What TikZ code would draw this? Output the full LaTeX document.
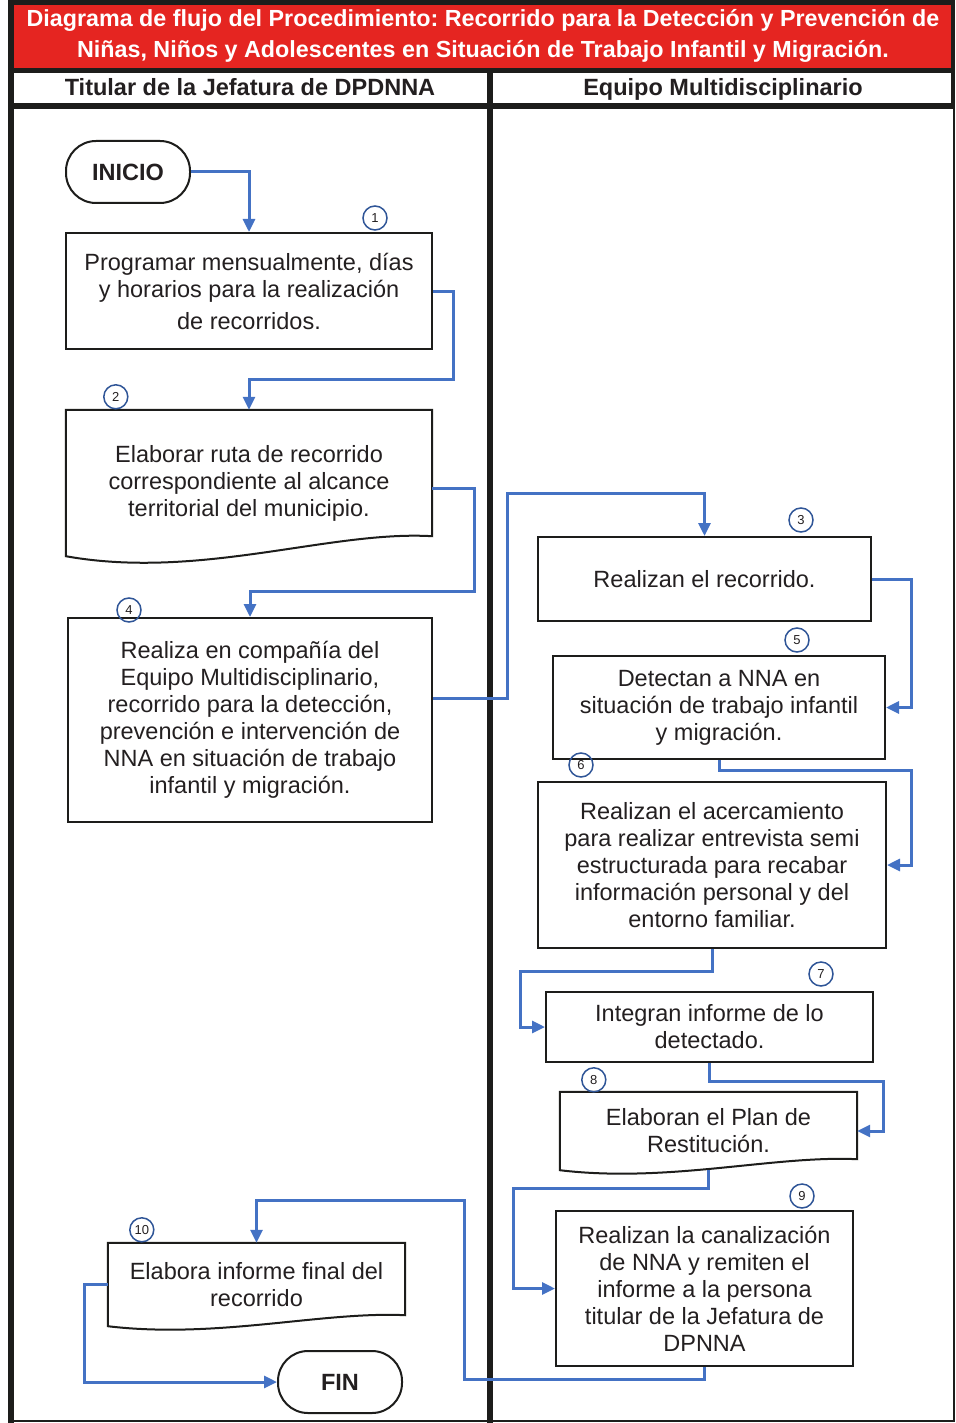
\documentclass[tikz,border=0pt]{standalone}
\usepackage{fontspec}
\setmainfont{Liberation Sans}
\usetikzlibrary{arrows.meta}
\definecolor{flowblue}{HTML}{4472C4}
\definecolor{numblue}{HTML}{2F5597}
\definecolor{titlered}{HTML}{E52521}
\definecolor{framegray}{HTML}{1D1D1B}
\definecolor{textgray}{HTML}{231F20}
\frenchspacing

\begin{document}
\begin{tikzpicture}[x=1pt,y=-1pt,
  every node/.style={font=\fontsize{23.5}{27}\selectfont,text=textgray},
  procbox/.style={draw=framegray,line width=2pt,align=center,inner sep=0pt},
  docbox/.style={align=center,inner sep=0pt},
  termbox/.style={draw=framegray,line width=2pt,rounded corners=30pt,
    minimum width=124pt,minimum height=62pt,font=\fontsize{23.5}{27}\selectfont\bfseries},
  numcirc/.style={circle,draw=numblue,line width=1.5pt,minimum size=24pt,inner sep=0pt,
    font=\fontsize{13}{13}\selectfont},
  lanehead/.style={anchor=base,font=\fontsize{23.5}{27}\selectfont\bfseries},
  flow/.style={draw=flowblue,line width=3pt,-{Triangle[length=13pt,width=12pt]}}]
\useasboundingbox (0,0) rectangle (955,1423);
% marco y carriles
\fill[framegray] (8,0) rectangle (955,109);
\fill[titlered] (14,5) rectangle (951,68);
\fill[white] (14,73) rectangle (487,103);
\fill[white] (493,73) rectangle (951,103);
\fill[framegray] (8,109) rectangle (14,1423);
\fill[framegray] (487,109) rectangle (493,1423);
\draw[framegray,line width=2pt] (14,1421) -- (954,1421) -- (954,109);
\node[align=center,text=white,font=\fontsize{23.3}{31}\selectfont\bfseries] (titulo) at (483,36)
  {Diagrama de flujo del Procedimiento: Recorrido para la Detección y Prevención de\\
   Niñas, Niños y Adolescentes en Situación de Trabajo Infantil y Migración.};
\node[lanehead] (carril1) at (250,96) {Titular de la Jefatura de DPDNNA};
\node[lanehead] (carril2) at (723,96) {Equipo Multidisciplinario};
% actividades
\node[termbox] (inicio) at (128,172) {INICIO};
\node[procbox,minimum width=366pt,minimum height=116pt] (b1) at (249,291)
  {Programar mensualmente, días\\ y horarios para la realización\\[5pt] de recorridos.};
\node[docbox,minimum width=366pt,minimum height=146pt] (b2) at (249,483)
  {Elaborar ruta de recorrido\\ correspondiente al alcance\\ territorial del municipio.};
\node[procbox,minimum width=364pt,minimum height=204pt] (b4) at (250,720)
  {Realiza en compañía del\\ Equipo Multidisciplinario,\\ recorrido para la detección,\\
   prevención e intervención de\\ NNA en situación de trabajo\\ infantil y migración.};
\node[procbox,minimum width=333pt,minimum height=84pt] (b3) at (704.5,579) {Realizan el recorrido.};
\node[procbox,minimum width=332pt,minimum height=103pt] (b5) at (719,707.5)
  {Detectan a NNA en\\ situación de trabajo infantil\\ y migración.};
\node[procbox,minimum width=348pt,minimum height=166pt] (b6) at (712,865)
  {Realizan el acercamiento\\ para realizar entrevista semi\\ estructurada para recabar\\
   información personal y del\\ entorno familiar.};
\node[procbox,minimum width=327pt,minimum height=70pt] (b7) at (709.5,1027)
  {Integran informe de lo\\ detectado.};
\node[docbox,minimum width=297pt,minimum height=78pt] (b8) at (708.5,1131)
  {Elaboran el Plan de\\ Restitución.};
\node[procbox,minimum width=297pt,minimum height=155pt] (b9) at (704.5,1288.5)
  {Realizan la canalización\\ de NNA y remiten el\\ informe a la persona\\
   titular de la Jefatura de\\ DPNNA};
\node[docbox,minimum width=297pt,minimum height=83pt] (b10) at (256.5,1284.5)
  {Elabora informe final del\\ recorrido};
\node[termbox] (fin) at (340,1382) {FIN};
% formas de documento
\draw[framegray,line width=2pt] (b2.north west) -- (b2.north east) -- ([yshift=20]b2.south east)
  .. controls ([xshift=-102,yshift=26]b2.south east) and ([xshift=134,yshift=-24]b2.south west) .. (b2.south west) -- cycle;
\draw[framegray,line width=2pt] (b8.north west) -- (b8.north east) -- ([yshift=11]b8.south east)
  .. controls ([xshift=-83,yshift=15]b8.south east) and ([xshift=109,yshift=-13]b8.south west) .. (b8.south west) -- cycle;
\draw[framegray,line width=2pt] (b10.north west) -- (b10.north east) -- ([yshift=11]b10.south east)
  .. controls ([xshift=-83,yshift=15]b10.south east) and ([xshift=109,yshift=-13]b10.south west) .. (b10.south west) -- cycle;
% numeros
\node[numcirc] (n1) at ([xshift=-58,yshift=14]b1.north east) {1};
\node[numcirc] (n2) at ([xshift=50,yshift=13]b2.north west) {2};
\node[numcirc] (n3) at ([xshift=-71,yshift=16]b3.north east) {3};
\node[numcirc] (n4) at ([xshift=62,yshift=7]b4.north west) {4};
\node[numcirc] (n5) at ([xshift=-89,yshift=15]b5.north east) {5};
\node[numcirc] (n6) at ([xshift=44,yshift=16]b6.north west) {6};
\node[numcirc] (n7) at ([xshift=-53,yshift=17]b7.north east) {7};
\node[numcirc] (n8) at ([xshift=34,yshift=12]b8.north west) {8};
\node[numcirc] (n9) at ([xshift=-52,yshift=14]b9.north east) {9};
\node[numcirc] (n10) at ([xshift=34,yshift=13]b10.north west) {10};
% conectores
\draw[flow] (inicio.east) -| (b1.north);
\draw[flow] (b1.east) -- ++(20,0) |- ([yshift=30]b2.north) -- (b2.north);
\draw[flow] ([yshift=-5]b2.east) -- ++(42,0) |- ([yshift=26]b4.north) -- (b4.north);
\draw[flow] ([yshift=22]b4.east) -- ++(74,0) |- ([yshift=43]b3.north) -- (b3.north);
\draw[flow] (b3.east) -- ++(39,0) |- (b5.east);
\draw[flow] (b5.south) -- ++(0,10) -| ([xshift=24]b6.east) -- (b6.east);
\draw[flow] (b6.south) -- ++(0,22) -| ([xshift=-25]b7.west) -- (b7.west);
\draw[flow] (b7.south) -- ++(0,18) -| ([xshift=26]b8.east) -- (b8.east);
\draw[flow] (b8.south) -- ++(0,18) -| ([xshift=-42]b9.west) -- (b9.west);
\draw[flow] (b9.south) -- ++(0,12) -- ++(-240,0) |- ([yshift=42]b10.north) -- (b10.north);
\draw[flow] (b10.west) -- ++(-23,0) |- (fin.west);
\end{tikzpicture}
\end{document}
